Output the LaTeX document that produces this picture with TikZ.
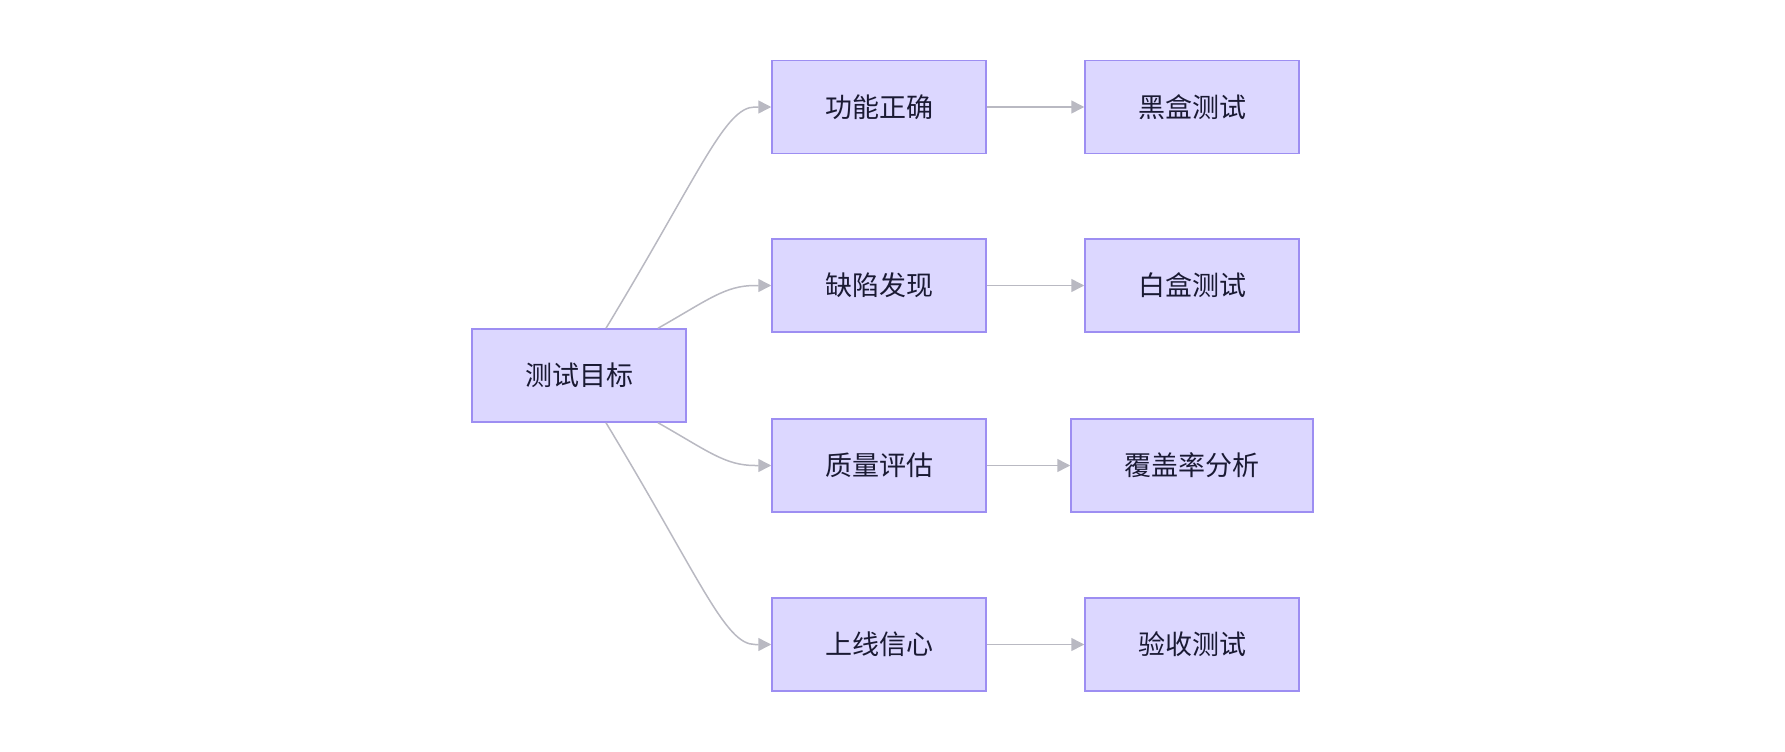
\documentclass[tikz,border=0pt]{standalone}
\usepackage{fontspec}
\setmainfont{Noto Sans CJK SC}
\usetikzlibrary{arrows.meta}
\definecolor{boxfill}{HTML}{DCD7FF}
\definecolor{boxline}{HTML}{9D8EF2}
\definecolor{txt}{HTML}{1A1A33}
\definecolor{edge}{HTML}{B9B9C2}
\tikzset{
  box/.style={draw=boxline, fill=boxfill, line width=1.5pt, rectangle,
    minimum width=214pt, minimum height=93pt, inner sep=0pt,
    text=txt, font=\fontsize{27}{32}\selectfont},
  conn/.style={draw=edge, line width=1.5pt,
    -{Triangle[length=13pt,width=13pt]}}
}
\begin{document}
\begin{tikzpicture}[x=1pt,y=-1pt]
\useasboundingbox (0,0) rectangle (1785,752);
\node[box] (root) at (579,375.5) {测试目标};
\node[box] (a1) at (879,107) {功能正确};
\node[box] (a2) at (879,285.5) {缺陷发现};
\node[box] (a3) at (879,465.5) {质量评估};
\node[box] (a4) at (879,644.5) {上线信心};
\node[box] (b1) at (1192,107) {黑盒测试};
\node[box] (b2) at (1192,285.5) {白盒测试};
\node[box, minimum width=242pt] (b3) at (1192,465.5) {覆盖率分析};
\node[box] (b4) at (1192,644.5) {验收测试};
\coordinate (k1) at (755,107);
\coordinate (k2) at (755,285.5);
\coordinate (k3) at (755,465.5);
\coordinate (k4) at (755,644.5);
\draw[conn] ([xshift=27pt]root.north) .. controls (701,171) and (725,107) .. (k1) -- (a1.west);
\draw[conn] ([xshift=79pt]root.north) .. controls (708,300) and (725,285.5) .. (k2) -- (a2.west);
\draw[conn] ([xshift=79pt]root.south) .. controls (708,451) and (725,465.5) .. (k3) -- (a3.west);
\draw[conn] ([xshift=27pt]root.south) .. controls (701,580) and (725,644.5) .. (k4) -- (a4.west);
\draw[conn] (a1) -- (b1);
\draw[conn] (a2) -- (b2);
\draw[conn] (a3) -- (b3);
\draw[conn] (a4) -- (b4);
\end{tikzpicture}
\end{document}
